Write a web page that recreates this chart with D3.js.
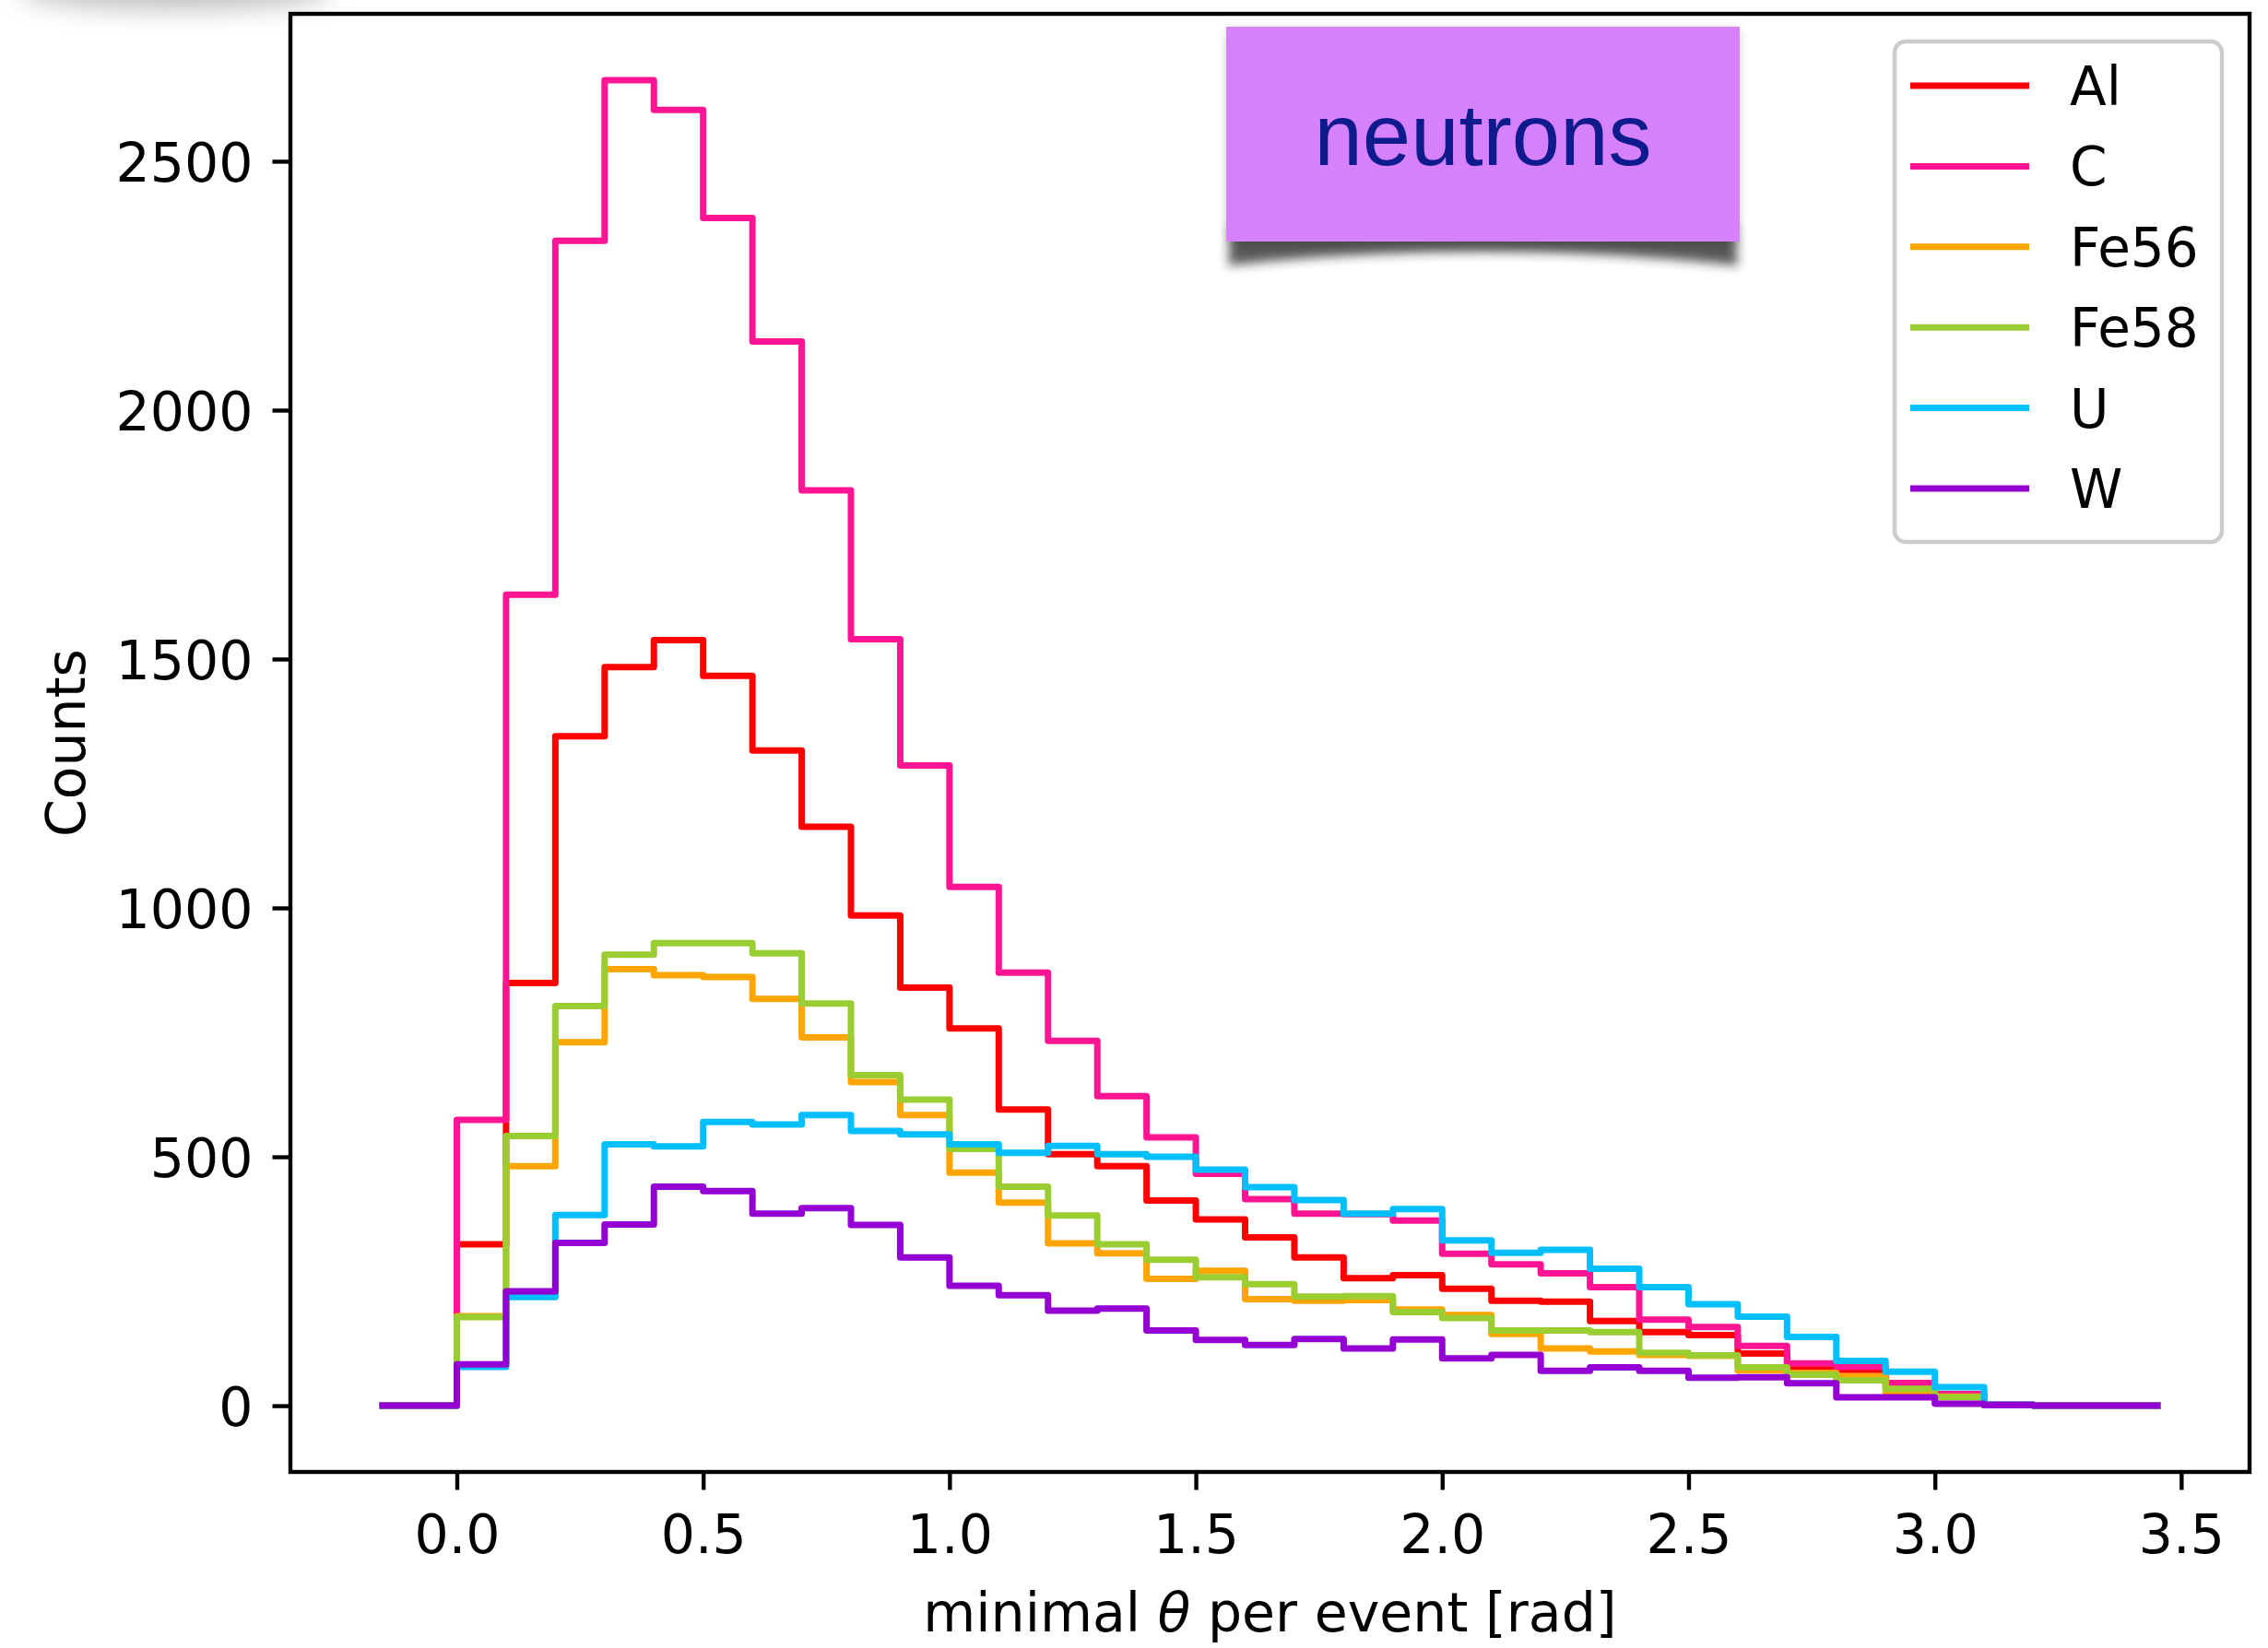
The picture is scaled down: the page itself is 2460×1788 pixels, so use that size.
<!DOCTYPE html>
<html><head><meta charset="utf-8">
<script src="https://cdn.jsdelivr.net/npm/d3@7"></script>
<style>html,body{margin:0;padding:0;background:#fff;} svg{display:block;}</style>
</head><body>
<script>
// ---------------- data ----------------
const seriesNames  = ["Al", "C", "Fe56", "Fe58", "U", "W"];
const seriesColors = ["#ff0000", "#ff1493", "#ffa500", "#9acd32", "#00bfff", "#9400d3"];

// left edges of the 0.1-rad bins; last bin ends at binEnd
const binEdges = [0.0,0.1,0.2,0.3,0.4,0.5,0.6,0.7,0.8,0.9,1.0,1.1,1.2,1.3,1.4,1.5,
                  1.6,1.7,1.8,1.9,2.0,2.1,2.2,2.3,2.4,2.5,2.6,2.7,2.8,2.9,3.0,3.1];
const binEnd = 3.2;
const padStart = -0.157;   // zero-level step before first bin
const padEnd = 3.458;      // zero-level step after last bin

const countsAl   = [324,849,1345,1484,1538,1466,1316,1163,985,840,758,595,505,481,412,374,
                    338,298,256,262,235,211,209,170,148,142,105,73,72,45,23,2];
const countsC    = [574,1629,2340,2663,2603,2386,2138,1839,1540,1286,1042,870,733,622,539,466,
                    415,386,385,372,305,284,266,238,173,158,120,85,78,45,23,2];
const countsFe56 = [180,481,730,877,865,861,817,740,650,584,468,408,326,306,255,271,
                    214,211,212,193,182,144,115,109,102,100,71,66,59,25,18,1];
const countsFe58 = [178,542,803,906,929,929,909,808,664,615,516,440,382,324,293,258,
                    244,219,220,188,176,151,151,148,106,101,77,62,51,34,17,1];
const countsU    = [78,218,383,525,521,570,565,584,552,545,525,508,522,505,500,474,
                    439,413,386,395,332,307,313,275,238,204,179,138,90,68,37,2];
const countsW    = [83,230,327,364,440,431,386,397,363,298,241,222,191,195,151,132,
                    122,134,115,133,95,102,70,77,70,56,57,45,17,17,4,1];

const xTicks = [0.0,0.5,1.0,1.5,2.0,2.5,3.0,3.5];
const yTicks = [0,500,1000,1500,2000,2500];
const xTickLabels = ["0.0","0.5","1.0","1.5","2.0","2.5","3.0","3.5"];
const yTickLabels = ["0","500","1000","1500","2000","2500"];

const allCounts = [countsAl, countsC, countsFe56, countsFe58, countsU, countsW];

// ---------------- layout ----------------
const W = 2460, H = 1788;
const plot = {left: 315, right: 2440, top: 15, bottom: 1597};
const FONT = "'DejaVu Sans', sans-serif";
const FS = 58.5;

const svg = d3.select("body").append("svg").attr("width", W).attr("height", H)
  .style("font-family", FONT);

const defs = svg.append("defs");
defs.append("filter").attr("id","blur6").attr("x","-20%").attr("y","-50%").attr("width","140%").attr("height","200%")
  .append("feGaussianBlur").attr("stdDeviation", 6);
defs.append("filter").attr("id","blur14").attr("x","-50%").attr("y","-200%").attr("width","200%").attr("height","500%")
  .append("feGaussianBlur").attr("stdDeviation", 14);

// faint smudge at top-left (from the source screenshot)
svg.append("ellipse").attr("cx", 190).attr("cy", -12).attr("rx", 170).attr("ry", 22)
  .attr("fill", "#888").attr("opacity", 0.55).attr("filter", "url(#blur14)");

// scales (matplotlib-like 5% margins)
const xMin = padStart, xMax = padEnd, xSpan = xMax - xMin;
const x = d3.scaleLinear().domain([xMin - 0.05*xSpan, xMax + 0.05*xSpan]).range([plot.left, plot.right]);
const yMax = d3.max(allCounts, s => d3.max(s));
const y = d3.scaleLinear().domain([-0.05*yMax, 1.05*yMax]).range([plot.bottom, plot.top]);

// histogram step lines
const line = d3.line().x(d => x(d[0])).y(d => y(d[1])).curve(d3.curveStepAfter);
allCounts.forEach((vals, i) => {
  const pts = [[padStart, 0]];
  binEdges.forEach((e, k) => pts.push([e, vals[k]]));
  pts.push([binEnd, 0]);
  pts.push([padEnd, 0]);
  svg.append("path").datum(pts).attr("d", line)
    .attr("fill", "none").attr("stroke", seriesColors[i])
    .attr("stroke-width", 7).attr("stroke-linejoin", "round").attr("stroke-linecap", "butt");
});

// axes
const yAxis = d3.axisLeft(y).tickValues(yTicks).tickSize(19.5).tickPadding(21)
  .tickFormat((d, i) => yTickLabels[i]);
const gy = svg.append("g").attr("transform", `translate(${plot.left},0)`).call(yAxis);
gy.select(".domain").remove();
gy.selectAll(".tick line").attr("stroke", "#000").attr("stroke-width", 4.4);
gy.selectAll(".tick text").attr("font-size", FS).attr("font-family", FONT).attr("fill", "#000").attr("dy", "0.36em");

const xAxis = d3.axisBottom(x).tickValues(xTicks).tickSize(19.5).tickPadding(0)
  .tickFormat((d, i) => xTickLabels[i]);
const gx = svg.append("g").attr("transform", `translate(0,${plot.bottom})`).call(xAxis);
gx.select(".domain").remove();
gx.selectAll(".tick line").attr("stroke", "#000").attr("stroke-width", 4.4);
gx.selectAll(".tick text").attr("font-size", FS).attr("font-family", FONT).attr("fill", "#000")
  .attr("dy", null).attr("y", 1685 - plot.bottom);

// spines
svg.append("rect").attr("x", plot.left).attr("y", plot.top)
  .attr("width", plot.right - plot.left).attr("height", plot.bottom - plot.top)
  .attr("fill", "none").attr("stroke", "#000").attr("stroke-width", 4.4);

// axis labels
const xl = svg.append("text").attr("x", (plot.left + plot.right)/2).attr("y", 1770)
  .attr("text-anchor", "middle").attr("font-size", FS).attr("fill", "#000");
xl.append("tspan").text("minimal ");
xl.append("tspan").attr("font-style", "italic").text("θ");
xl.append("tspan").text(" per event [rad]");

svg.append("text").attr("transform", `translate(92,${(plot.top + plot.bottom)/2}) rotate(-90)`)
  .attr("text-anchor", "middle").attr("font-size", FS).attr("fill", "#000").text("Counts");

// legend
const leg = {x: 2055, y: 45, w: 355, h: 543};
svg.append("rect").attr("x", leg.x).attr("y", leg.y).attr("width", leg.w).attr("height", leg.h)
  .attr("rx", 12).attr("ry", 12).attr("fill", "#fff").attr("fill-opacity", 0.8)
  .attr("stroke", "#cccccc").attr("stroke-width", 4.5);
seriesNames.forEach((name, i) => {
  const cy = 93 + i * 87.4;
  svg.append("line").attr("x1", 2072).attr("x2", 2201).attr("y1", cy).attr("y2", cy)
    .attr("stroke", seriesColors[i]).attr("stroke-width", 7);
  svg.append("text").attr("x", 2245).attr("y", cy + 21).attr("font-size", 58)
    .attr("fill", "#000").text(name);
});

// "neutrons" sticky label with curled shadow
const nb = {x: 1330, y: 29, w: 557, h: 233};
svg.append("rect").attr("x", nb.x + 2).attr("y", nb.y + 4).attr("width", nb.w - 4).attr("height", nb.h)
  .attr("fill", "#000").attr("opacity", 0.25).attr("filter", "url(#blur6)");
svg.append("path")
  .attr("d", `M${nb.x+6},${nb.y+nb.h-20} L${nb.x+2},${nb.y+nb.h+26} Q${nb.x+nb.w/2},${nb.y+nb.h-4} ${nb.x+nb.w-2},${nb.y+nb.h+26} L${nb.x+nb.w-6},${nb.y+nb.h-20} Z`)
  .attr("fill", "#222").attr("opacity", 0.75).attr("filter", "url(#blur6)");
svg.append("rect").attr("x", nb.x).attr("y", nb.y).attr("width", nb.w).attr("height", nb.h)
  .attr("fill", "#d682fe");
svg.append("text").attr("x", nb.x + nb.w/2).attr("y", 179).attr("text-anchor", "middle")
  .attr("font-family", "'Liberation Sans', Arial, sans-serif").attr("font-size", 94)
  .attr("fill", "#0f1a8c").text("neutrons");
</script>
</body></html>
